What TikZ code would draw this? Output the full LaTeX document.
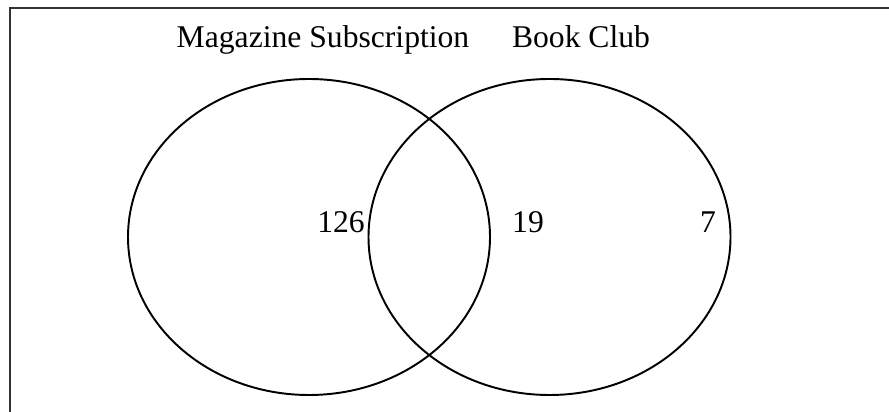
\documentclass[tikz,border=0pt]{standalone}
\usepackage{fontspec}
\setmainfont{Liberation Serif}
\usepackage{tikz}
\usetikzlibrary{shapes.geometric,positioning}

\begin{document}
\begin{tikzpicture}[
  font=\fontsize{18}{22}\selectfont,
  frame/.style={draw, line width=1.5pt, black!80},
  set/.style={draw, ellipse, line width=1.1pt, minimum width=7.24cm, minimum height=6.32cm, inner sep=0pt},
  lbl/.style={anchor=base, inner sep=0pt}
]
\useasboundingbox (0,0) rectangle (17.78,-8.24);
\draw[frame] (0.2,-0.16) rectangle (18.5,-9);

\node[set] (magset) at (6.18,-4.74) {};
\node[set] (bookset) at (10.99,-4.74) {};

\node[lbl] (magtitle) at (6.46,-0.96) {Magazine Subscription};
\node[lbl] (booktitle) at (11.62,-0.96) {Book Club};

\node[lbl] (onlymag) at (6.82,-4.66) {126};
\node[lbl] (both) at (10.56,-4.66) {19};
\node[lbl] (onlybook) at (14.16,-4.66) {7};
\end{tikzpicture}
\end{document}
